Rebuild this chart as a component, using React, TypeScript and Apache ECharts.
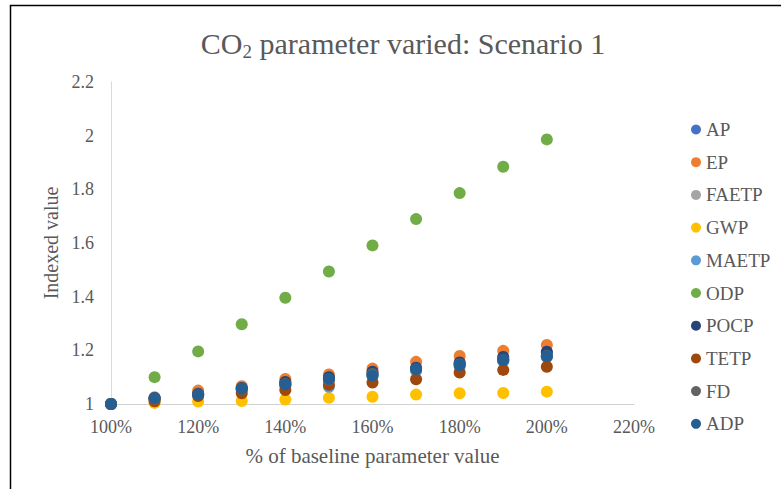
import React, { useEffect, useRef } from "react";
import * as echarts from "echarts";

const xValues = [100, 110, 120, 130, 140, 150, 160, 170, 180, 190, 200];
const seriesNames = ["AP", "EP", "FAETP", "GWP", "MAETP", "ODP", "POCP", "TETP", "FD", "ADP"];
const seriesColors = ["#4472C4", "#ED7D31", "#A5A5A5", "#FFC000", "#5B9BD5", "#70AD47", "#264478", "#9E480E", "#636363", "#255E91"];

const AP = [1, 1.02, 1.04, 1.06, 1.08, 1.095, 1.115, 1.13, 1.15, 1.17, 1.19];
const EP = [1, 1.025, 1.05, 1.066, 1.093, 1.11, 1.132, 1.157, 1.179, 1.198, 1.22];
const FAETP = [1, 1.02, 1.035, 1.055, 1.07, 1.09, 1.11, 1.125, 1.145, 1.16, 1.175];
const GWP = [1, 1.004, 1.009, 1.011, 1.017, 1.023, 1.027, 1.035, 1.04, 1.041, 1.046];
const MAETP = [1, 1.018, 1.035, 1.052, 1.068, 1.064, 1.105, 1.125, 1.14, 1.16, 1.175];
const ODP = [1, 1.1, 1.196, 1.297, 1.396, 1.494, 1.591, 1.689, 1.786, 1.884, 1.986];
const POCP = [1, 1.022, 1.038, 1.06, 1.082, 1.1, 1.12, 1.135, 1.155, 1.175, 1.195];
const TETP = [1, 1.01, 1.03, 1.04, 1.052, 1.072, 1.08, 1.092, 1.117, 1.127, 1.139];
const FD = [1, 1.02, 1.036, 1.056, 1.075, 1.09, 1.112, 1.13, 1.148, 1.165, 1.18];
const ADP = [1, 1.022, 1.035, 1.058, 1.073, 1.094, 1.105, 1.13, 1.145, 1.164, 1.178];

const seriesValues = [AP, EP, FAETP, GWP, MAETP, ODP, POCP, TETP, FD, ADP];

const FONT = "'Liberation Serif', 'Times New Roman', 'DejaVu Serif', serif";
const TEXT = "#595959";

export default function App() {
  const ref = useRef<HTMLDivElement>(null);
  useEffect(() => {
    if (!ref.current) return;
    const chart = echarts.init(ref.current, null, { renderer: "svg" });
    chart.setOption({
      animation: false,
      backgroundColor: "#ffffff",
      textStyle: { fontFamily: FONT },
      title: {
        text: "CO{sub|2} parameter varied: Scenario 1",
        left: 398,
        top: 20,
        textAlign: "center",
        textStyle: {
          fontFamily: FONT,
          fontSize: 30,
          fontWeight: "normal",
          color: TEXT,
          lineHeight: 36,
          rich: {
            sub: {
              fontFamily: FONT,
              fontSize: 19,
              color: TEXT,
              lineHeight: 19,
              verticalAlign: "bottom",
            },
          },
        },
      },
      graphic: [
        {
          type: "rect",
          shape: { x: 10.5, y: 5.5, width: 800, height: 520 },
          style: { fill: "none", stroke: "#000000", lineWidth: 1.5 },
          silent: true,
        },
      ],
      legend: {
        orient: "vertical",
        left: 686,
        top: 115,
        itemWidth: 10,
        itemHeight: 10,
        itemGap: 13.7,
        icon: "circle",
        data: seriesNames,
        textStyle: { fontFamily: FONT, fontSize: 19, color: TEXT, lineHeight: 19 },
      },
      grid: { left: 111, right: 147, top: 82, bottom: 85 },
      xAxis: {
        type: "value",
        min: 100,
        max: 220,
        interval: 20,
        name: "% of baseline parameter value",
        nameLocation: "middle",
        nameGap: 41,
        nameTextStyle: { fontFamily: FONT, fontSize: 21, color: TEXT },
        axisLine: { show: true, lineStyle: { color: "#D0D0D0", width: 1 } },
        axisTick: { show: false },
        splitLine: { show: false },
        axisLabel: {
          fontFamily: FONT,
          fontSize: 18,
          color: TEXT,
          margin: 14,
          formatter: (v: number) => `${Math.round(v)}%`,
        },
      },
      yAxis: {
        type: "value",
        min: 1,
        max: 2.2,
        interval: 0.2,
        name: "Indexed value",
        nameLocation: "middle",
        nameGap: 48,
        nameTextStyle: { fontFamily: FONT, fontSize: 20, color: TEXT },
        axisLine: { show: true, lineStyle: { color: "#D9D9D9", width: 1 } },
        axisTick: { show: false },
        splitLine: { show: false },
        axisLabel: {
          fontFamily: FONT,
          fontSize: 18,
          color: TEXT,
          margin: 17,
          formatter: (v: number) => String(Math.round(v * 10) / 10),
        },
      },
      series: seriesNames.map((name, i) => ({
        name,
        type: "scatter",
        symbol: "circle",
        symbolSize: 12,
        itemStyle: { color: seriesColors[i], opacity: 1 },
        data: xValues.map((x, j) => [x, seriesValues[i][j]]),
      })),
    });
    return () => chart.dispose();
  }, []);
  return (
    <div
      ref={ref}
      style={{ position: "absolute", left: 0, top: 0, width: 781, height: 489 }}
    />
  );
}
